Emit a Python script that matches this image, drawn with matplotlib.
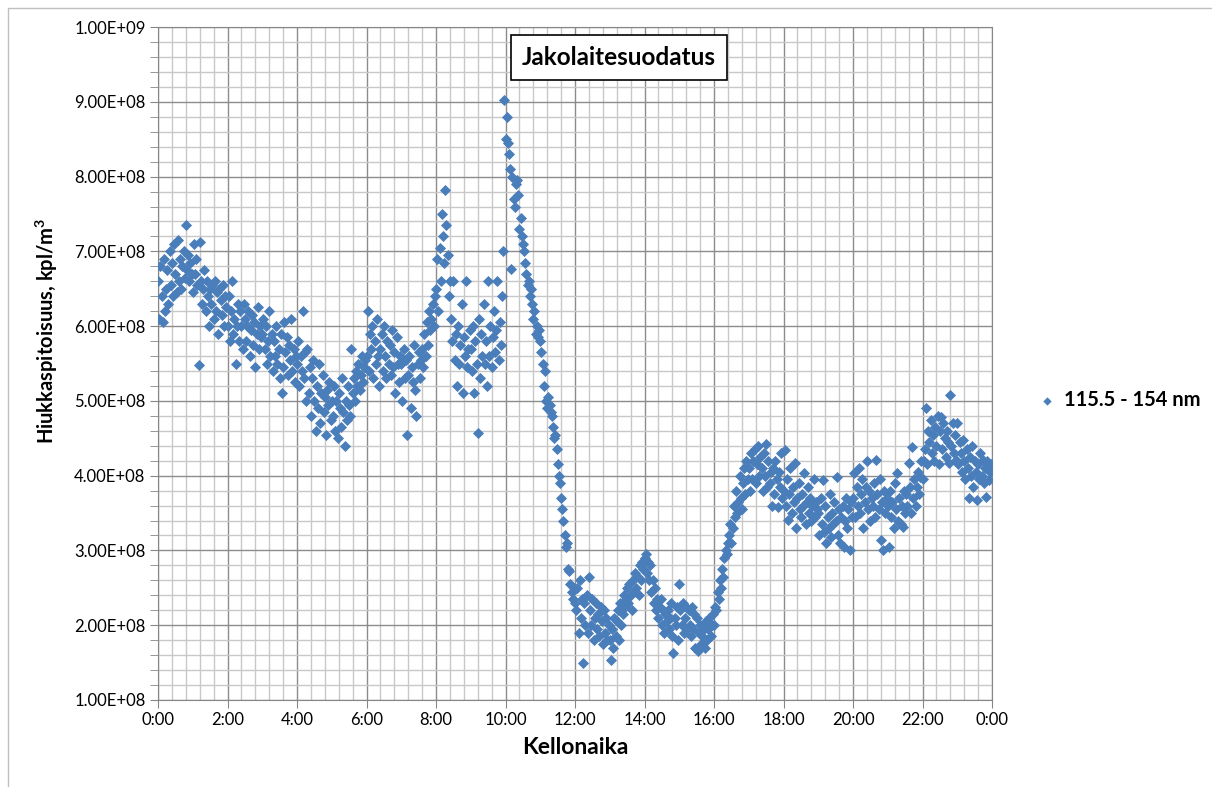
import numpy as np
import matplotlib
matplotlib.use('Agg')
import matplotlib.pyplot as plt
from matplotlib.ticker import MultipleLocator, FuncFormatter
from matplotlib.patches import Rectangle

# Pitoisuudet yksikössä 1e8 kpl/m3, yksi rivi per tunti (2 min välein)
conc_by_hour = [
    [6.6, 6.1, 6.8, 6.4, 6.05, 6.9, 6.2, 6.5, 6.75, 6.3, 7.0, 6.55, 6.85, 6.4, 7.1, 6.7, 6.45, 7.15, 6.6, 6.9, 6.5, 6.8, 7.0, 6.65, 7.35, 6.75, 6.95, 6.6, 6.85, 6.7],
    [6.45, 7.1, 6.7, 6.9, 6.55, 5.48, 7.12, 6.6, 6.3, 6.5, 6.75, 6.2, 6.6, 6.4, 6.0, 6.5, 6.3, 6.55, 6.1, 6.6, 6.2, 6.45, 5.9, 6.5, 6.35, 6.15, 6.55, 6.0, 6.4, 6.25],
    [6.0, 6.4, 5.8, 6.2, 6.6, 5.9, 6.1, 5.5, 6.0, 6.3, 5.8, 6.2, 6.0, 5.7, 6.3, 6.1, 5.8, 6.0, 6.2, 5.6, 5.95, 6.15, 5.75, 6.05, 5.45, 5.9, 6.25, 5.7, 6.0, 5.85],
    [5.9, 6.1, 5.7, 6.0, 5.5, 5.8, 6.2, 5.6, 5.9, 5.4, 5.8, 5.6, 6.0, 5.5, 5.7, 5.3, 5.9, 5.1, 5.45, 6.05, 5.65, 5.85, 5.35, 5.75, 5.55, 6.1, 5.4, 5.7, 5.25, 5.6],
    [5.5, 5.8, 5.2, 5.6, 5.4, 6.2, 5.3, 5.65, 5.0, 5.7, 5.1, 5.45, 4.8, 5.3, 5.55, 5.0, 4.6, 5.2, 4.9, 5.5, 4.7, 5.1, 5.35, 4.85, 5.05, 4.55, 5.15, 4.95, 5.25, 4.75],
    [5.0, 4.8, 5.2, 4.6, 5.0, 4.5, 5.1, 4.9, 4.65, 5.3, 4.85, 4.4, 5.0, 4.75, 5.2, 4.95, 4.8, 5.7, 5.1, 5.3, 5.0, 5.4, 5.2, 5.5, 5.15, 5.35, 5.6, 5.25, 5.45, 5.55],
    [5.6, 6.2, 5.4, 5.9, 5.7, 6.0, 5.3, 5.8, 5.5, 6.1, 5.6, 5.2, 5.7, 5.9, 5.4, 6.0, 5.6, 5.3, 5.8, 5.5, 5.75, 5.35, 5.95, 5.45, 5.65, 5.1, 5.85, 5.5, 5.25, 5.6],
    [5.5, 5.0, 5.7, 5.3, 5.55, 4.55, 5.35, 5.6, 4.9, 5.45, 5.25, 5.75, 5.15, 4.8, 5.5, 5.65, 5.3, 5.55, 5.7, 5.45, 5.9, 5.6, 6.05, 5.75, 6.2, 5.95, 6.1, 6.3, 6.0, 6.4],
    [6.5, 6.9, 6.2, 7.05, 6.6, 7.5, 7.2, 6.85, 7.82, 7.35, 6.95, 6.4, 6.6, 6.1, 5.8, 6.6, 5.55, 5.9, 5.2, 6.0, 5.5, 5.75, 6.3, 5.1, 5.85, 5.6, 6.6, 5.45, 5.7, 5.95],
    [5.7, 5.4, 6.0, 5.1, 5.8, 5.5, 4.57, 6.1, 5.3, 5.9, 5.6, 6.3, 5.5, 5.8, 5.2, 6.6, 5.6, 6.0, 5.45, 5.85, 6.2, 5.65, 5.95, 6.6, 5.55, 6.05, 5.75, 6.4, 7.0, 9.02],
    [8.5, 8.8, 8.45, 8.3, 8.1, 6.76, 8.0, 7.7, 7.6, 7.9, 7.95, 7.75, 7.3, 7.45, 7.2, 7.1, 7.0, 6.85, 6.7, 6.55, 6.6, 6.4, 6.5, 6.3, 6.1, 6.2, 5.9, 6.0, 5.85, 5.95],
    [5.8, 5.65, 5.5, 5.2, 5.4, 5.0, 4.9, 5.05, 4.95, 4.85, 4.8, 4.65, 4.5, 4.55, 4.35, 4.15, 4.0, 3.9, 3.7, 3.55, 3.4, 3.2, 3.05, 3.1, 2.75, 2.72, 2.55, 2.45, 2.35, 2.5],
    [2.3, 2.2, 2.5, 1.9, 2.6, 2.1, 2.35, 1.5, 2.3, 2.0, 2.4, 1.9, 2.65, 2.2, 2.0, 2.35, 1.8, 2.1, 2.3, 1.95, 2.15, 1.85, 2.25, 2.05, 1.75, 2.2, 1.9, 2.1, 1.8, 2.0],
    [1.8, 1.53, 1.95, 1.7, 2.1, 1.85, 2.05, 2.2, 1.8, 2.3, 2.0, 2.15, 2.4, 2.25, 2.35, 2.5, 2.3, 2.55, 2.4, 2.2, 2.6, 2.45, 2.7, 2.5, 2.65, 2.4, 2.8, 2.6, 2.85, 2.75],
    [2.9, 2.95, 2.7, 2.85, 2.6, 2.8, 2.45, 2.6, 2.3, 2.5, 2.2, 2.35, 2.1, 2.25, 2.35, 2.0, 2.2, 1.9, 2.15, 2.05, 2.2, 1.95, 2.1, 2.3, 1.85, 1.63, 2.1, 2.0, 2.25, 1.8],
    [2.55, 2.2, 2.0, 2.3, 1.9, 2.1, 2.25, 1.95, 2.2, 2.0, 1.85, 2.25, 1.95, 2.15, 1.7, 2.1, 1.65, 1.9, 2.0, 1.75, 1.85, 1.95, 1.7, 2.05, 1.8, 1.95, 2.1, 1.85, 2.0, 2.15],
    [2.0, 2.25, 2.2, 2.45, 2.35, 2.6, 2.5, 2.75, 2.65, 2.9, 3.0, 2.95, 3.1, 3.2, 3.35, 3.1, 3.3, 3.6, 3.45, 3.8, 3.5, 3.65, 4.0, 3.7, 3.55, 3.9, 4.1, 3.75, 4.2, 3.95],
    [4.1, 3.8, 4.3, 3.95, 4.2, 4.35, 3.9, 4.15, 4.4, 4.0, 4.25, 4.1, 3.8, 4.3, 4.0, 4.43, 3.85, 4.2, 3.9, 4.05, 3.6, 4.1, 3.75, 4.2, 3.95, 3.58, 4.05, 3.85, 4.3, 3.7],
    [3.8, 4.34, 3.6, 3.95, 3.41, 3.75, 4.1, 3.5, 3.85, 3.65, 4.17, 3.3, 3.7, 3.9, 3.55, 3.45, 3.75, 3.6, 4.03, 3.35, 3.65, 3.85, 3.5, 3.7, 3.4, 3.6, 3.95, 3.45, 3.65, 3.55],
    [3.5, 3.2, 3.7, 3.35, 3.94, 3.25, 3.6, 3.1, 3.45, 3.3, 3.75, 3.18, 3.5, 3.35, 3.65, 3.4, 3.98, 3.2, 3.55, 3.1, 3.45, 3.6, 3.05, 3.4, 3.7, 3.3, 3.55, 3.0, 3.65, 3.45],
    [3.7, 4.03, 3.45, 3.85, 3.6, 4.1, 3.5, 3.75, 3.95, 3.3, 3.65, 3.85, 4.2, 3.55, 3.8, 3.4, 3.7, 3.6, 3.9, 3.45, 4.21, 3.75, 3.55, 3.95, 3.14, 3.65, 3.0, 3.8, 3.5, 3.7],
    [3.6, 3.05, 3.8, 3.45, 3.65, 3.3, 3.9, 3.55, 4.03, 3.4, 3.7, 3.35, 3.6, 3.32, 3.8, 3.5, 3.75, 3.6, 4.17, 3.85, 3.5, 4.38, 3.7, 3.95, 3.6, 3.85, 4.05, 3.75, 3.98, 4.2],
    [3.95, 4.2, 4.35, 4.9, 4.15, 4.6, 4.45, 4.75, 4.3, 4.55, 4.2, 4.65, 4.4, 4.8, 4.15, 4.6, 4.78, 4.35, 4.7, 4.5, 4.25, 4.6, 4.45, 4.17, 5.08, 4.4, 4.7, 4.3, 4.55, 4.21],
    [4.7, 4.15, 4.45, 4.3, 4.05, 4.48, 4.2, 3.95, 4.35, 4.1, 3.7, 4.25, 4.0, 4.4, 3.85, 4.2, 4.05, 3.67, 4.15, 3.95, 4.3, 4.0, 4.21, 3.9, 4.1, 3.71, 4.2, 3.94, 4.05, 4.15],
]
x_tick_labels = ['0:00', '2:00', '4:00', '6:00', '8:00', '10:00', '12:00',
                 '14:00', '16:00', '18:00', '20:00', '22:00', '0:00']
series_name = '115.5 - 154 nm'

# mittausajat: tasavälein kunkin tunnin sisällä
hours = np.concatenate([h + np.arange(len(row)) / len(row) for h, row in enumerate(conc_by_hour)])
conc = np.concatenate(conc_by_hour) * 1e8

plt.rcParams['font.family'] = ['Lato', 'DejaVu Sans']

fig = plt.figure(figsize=(12.12, 7.87), dpi=100)
ax = fig.add_axes([0.1304, 0.1106, 0.6881, 0.855])

# Kaavion reunus
fig.patches.append(Rectangle((0.0066, -0.01), 1.1, 1.0, transform=fig.transFigure,
                             fill=False, edgecolor='#bfbfbf', linewidth=1.0))

ax.scatter(hours, conc, marker='D', s=32, color='#4a7ebb', linewidths=0,
           label=series_name, zorder=3)

ax.set_xlim(0, 24)
ax.set_ylim(1e8, 1e9)
ax.xaxis.set_minor_locator(MultipleLocator(0.4))
ax.yaxis.set_major_locator(MultipleLocator(1e8))
ax.yaxis.set_minor_locator(MultipleLocator(2e7))
ax.set_xticks(np.arange(0, 25, 2))
ax.set_xticklabels(x_tick_labels)
ax.yaxis.set_major_formatter(FuncFormatter(lambda v, p: '%.2E' % v))

ax.grid(which='major', color='#8c8c8c', linewidth=1.0)
ax.grid(which='minor', color='#c8c8c8', linewidth=1.0)
ax.set_axisbelow(True)
ax.tick_params(axis='both', which='major', direction='out', length=6,
               color='#868686', labelsize=12, pad=3)
ax.tick_params(axis='x', which='minor', length=0)
ax.tick_params(axis='y', which='minor', direction='out', length=6, color='#868686')
for s in ax.spines.values():
    s.set_color('#868686')

ax.set_xlabel('Kellonaika', fontsize=16.5, fontweight='bold', labelpad=6)
ax.set_ylabel('Hiukkaspitoisuus, kpl/m$^\\mathregular{3}$', fontsize=14.5, fontweight='bold')
ax.yaxis.set_label_coords(-0.118, 0.548)

ax.text(0.553, 0.955, 'Jakolaitesuodatus', transform=ax.transAxes, ha='center', va='center',
        fontsize=17.5, fontweight='bold', zorder=5,
        bbox=dict(boxstyle='square,pad=0.45', facecolor='white', edgecolor='black', linewidth=1.2))

fig.legend(loc='center left', bbox_to_anchor=(0.841, 0.492), frameon=False,
           prop={'weight': 'bold', 'size': 14.5}, handlelength=1.0, handletextpad=0.3,
           markerscale=0.75)

fig.savefig('out.png', dpi=100)
